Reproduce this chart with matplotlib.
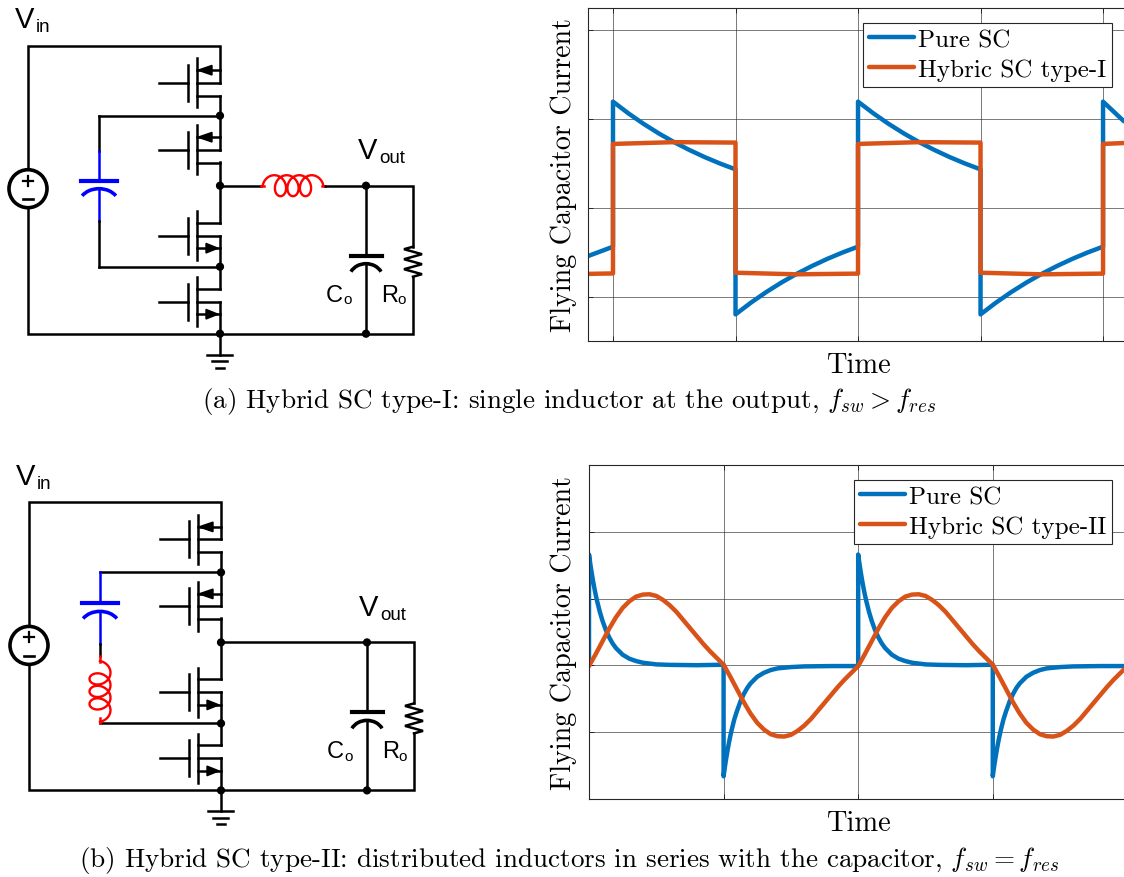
"""Hybrid switched-capacitor figure: two schematics and two current waveforms."""

import numpy as np
import matplotlib
matplotlib.use("Agg")
import matplotlib.pyplot as plt
from matplotlib.patches import Circle, Polygon, Arc

W, H = 1124, 878

plt.rcParams["axes.formatter.use_mathtext"] = True
plt.rcParams["mathtext.fontset"] = "cm"

SERIF = "cmr10"
SANS = "Liberation Sans"
BLUE = "#0072BD"
ORANGE = "#D95319"
DARK = "#262626"

# panel (a) waveforms, x in half periods
a_time_pure = [-0.204, 0, 0, 0.125, 0.25, 0.375, 0.5, 0.625, 0.75, 0.875, 1,
               1, 1.125, 1.25, 1.375, 1.5, 1.625, 1.75, 1.875, 2,
               2, 2.125, 2.25, 2.375, 2.5, 2.625, 2.75, 2.875, 3,
               3, 3.125, 3.25, 3.375, 3.5, 3.625, 3.75, 3.875, 4,
               4, 4.17]
a_pure = [-0.54, -0.435, 1.195, 1.064, 0.945, 0.837, 0.739, 0.651, 0.571, 0.499, 0.434,
          -1.195, -1.064, -0.945, -0.837, -0.739, -0.651, -0.571, -0.499, -0.434,
          1.195, 1.064, 0.945, 0.837, 0.739, 0.651, 0.571, 0.499, 0.434,
          -1.195, -1.064, -0.945, -0.837, -0.739, -0.651, -0.571, -0.499, -0.434,
          1.195, 0.975]
a_time_hybrid = [-0.204, 0, 0, 0.5, 1, 1, 1.5, 2, 2, 2.5, 3, 3, 3.5, 4, 4, 4.17]
a_hybrid = [-0.74, -0.735, 0.72, 0.74, 0.735, -0.727, -0.745, -0.737,
            0.72, 0.74, 0.735, -0.727, -0.745, -0.737, 0.72, 0.73]

# panel (b) waveforms
b_time_pure = [0, 0, 0.01, 0.02, 0.03, 0.04, 0.05, 0.06, 0.08, 0.1, 0.125, 0.15, 0.175, 0.2, 0.25, 0.3, 0.35, 0.4, 0.5, 0.6, 0.8, 1,
               1, 1.01, 1.02, 1.03, 1.04, 1.05, 1.06, 1.08, 1.1, 1.125, 1.15, 1.175, 1.2, 1.25, 1.3, 1.35, 1.4, 1.5, 1.6, 1.8, 2,
               2, 2.01, 2.02, 2.03, 2.04, 2.05, 2.06, 2.08, 2.1, 2.125, 2.15, 2.175, 2.2, 2.25, 2.3, 2.35, 2.4, 2.5, 2.6, 2.8, 3,
               3, 3.01, 3.02, 3.03, 3.04, 3.05, 3.06, 3.08, 3.1, 3.125, 3.15, 3.175, 3.2, 3.25, 3.3, 3.35, 3.4, 3.5, 3.6, 3.8, 3.975]
b_pure = [0, 1.66, 1.515, 1.385, 1.265, 1.155, 1.055, 0.965, 0.805, 0.67, 0.53, 0.42, 0.33, 0.26, 0.16, 0.10, 0.065, 0.04, 0.015, 0.008, 0.003, 0.01,
          -1.66, -1.515, -1.385, -1.265, -1.155, -1.055, -0.965, -0.805, -0.68, -0.54, -0.43, -0.34, -0.27, -0.17, -0.11, -0.07, -0.045, -0.025, -0.015, -0.01, -0.01,
          1.66, 1.515, 1.385, 1.265, 1.155, 1.055, 0.965, 0.805, 0.67, 0.53, 0.42, 0.33, 0.26, 0.16, 0.10, 0.065, 0.04, 0.015, 0.008, 0.003, 0.01,
          -1.66, -1.515, -1.385, -1.265, -1.155, -1.055, -0.965, -0.805, -0.68, -0.54, -0.43, -0.34, -0.27, -0.17, -0.11, -0.07, -0.045, -0.025, -0.015, -0.01, -0.01]
b_time_hybrid = [0, 0.05, 0.1, 0.15, 0.2, 0.25, 0.3, 0.35, 0.4, 0.45, 0.5, 0.55, 0.6, 0.65, 0.7, 0.75, 0.8, 0.85, 0.9, 0.95, 1,
                 1.05, 1.1, 1.15, 1.2, 1.25, 1.3, 1.35, 1.4, 1.45, 1.5, 1.55, 1.6, 1.65, 1.7, 1.75, 1.8, 1.85, 1.9, 1.95, 2,
                 2.05, 2.1, 2.15, 2.2, 2.25, 2.3, 2.35, 2.4, 2.45, 2.5, 2.55, 2.6, 2.65, 2.7, 2.75, 2.8, 2.85, 2.9, 2.95, 3,
                 3.05, 3.1, 3.15, 3.2, 3.25, 3.3, 3.35, 3.4, 3.45, 3.5, 3.55, 3.6, 3.65, 3.7, 3.75, 3.8, 3.85, 3.9, 3.95, 3.975]
b_hybrid = [-0.01, 0.17, 0.36, 0.55, 0.72, 0.86, 0.96, 1.03, 1.06, 1.065, 1.04, 0.98, 0.90, 0.80, 0.68, 0.56, 0.44, 0.32, 0.21, 0.11, 0.01,
            -0.17, -0.36, -0.55, -0.72, -0.86, -0.96, -1.03, -1.06, -1.065, -1.04, -0.98, -0.90, -0.80, -0.68, -0.56, -0.44, -0.32, -0.21, -0.11, -0.01,
            0.17, 0.36, 0.55, 0.72, 0.86, 0.96, 1.03, 1.06, 1.065, 1.04, 0.98, 0.90, 0.80, 0.68, 0.56, 0.44, 0.32, 0.21, 0.11, 0.01,
            -0.17, -0.36, -0.55, -0.72, -0.86, -0.96, -1.03, -1.06, -1.065, -1.04, -0.98, -0.90, -0.80, -0.68, -0.56, -0.44, -0.32, -0.21, -0.11, -0.06]


def px_rect(left, top, right, bottom):
    return [left / W, 1 - bottom / H, (right - left) / W, (bottom - top) / H]


def wire(ax, xs, ys, color="black", lw=1.8):
    ax.plot(xs, ys, color=color, lw=lw, solid_capstyle="projecting",
            solid_joinstyle="miter", zorder=2)


def dot(ax, x, y):
    ax.add_patch(Circle((x, y), 3.4, color="black", zorder=3))


def mosfet(ax, x, gate_y, p_type, dx):
    """Draw one FET. gate_y is the y of the gate line."""
    rail = x + dx
    wire(ax, [rail - 61, rail - 32], [gate_y, gate_y])
    wire(ax, [rail - 32, rail - 32], [gate_y - 18, gate_y + 18])
    wire(ax, [rail - 23, rail - 23], [gate_y - 24.5, gate_y + 24.5])
    if p_type:
        ys, arrow_y = (gate_y, gate_y + 13), gate_y - 12.5
        tip, base = rail - 22, rail - 8
    else:
        ys, arrow_y = (gate_y, gate_y - 13), gate_y + 12.5
        tip, base = rail - 2, rail - 14
    for y in ys:
        wire(ax, [rail - 23, rail], [y, y])
    wire(ax, [rail - 23, rail], [arrow_y, arrow_y])
    ax.add_patch(Polygon([[tip, arrow_y], [base, arrow_y - 4.8], [base, arrow_y + 4.8]],
                         closed=True, color="black", zorder=3))


def capacitor(ax, x, plate_y, color, half=18):
    wire(ax, [x - half, x + half], [plate_y, plate_y], color=color, lw=3.0)
    ax.add_patch(Arc((x, plate_y + 23), half * 2.2, 30, theta1=205, theta2=335,
                     color=color, lw=2.6, zorder=3))


def coil(ax, x0, y0, horizontal):
    t = np.linspace(0.5 * np.pi, 7.5 * np.pi, 400)
    along = 12.5 * t / (2 * np.pi) - 8.5 * np.sin(t)
    across = 10.5 * np.cos(t)
    if horizontal:
        ax.plot(x0 + along, y0 + across, color="red", lw=1.7, zorder=2)
    else:
        ax.plot(x0 - across, y0 + along, color="red", lw=1.7, zorder=2)


def resistor(ax, x, top, dx):
    ys = top + np.array([0, 2.5, 7.5, 12.5, 17.5, 22.5, 27.5, 30])
    xs = x + dx + np.array([0, -9, 9, -9, 9, -9, 9, 0])
    ax.plot(xs, ys, color="black", lw=1.8, solid_joinstyle="miter", zorder=2)


def sans(ax, x, y, s, size):
    ax.text(x, y, s, family=SANS, fontsize=size, ha="left", va="baseline")


def schematic(ax, dx, dy, series_lc):
    rail = 220 + dx
    top = 46 + dy
    bottom = 334 + dy
    out_y = 186 + dy
    fly_top = 116 + dy
    fly_bot = 267 + dy
    cap_x = 366 + dx
    res_x = 413 + dx
    left = 28 + dx
    fly_x = 99 + dx

    # outer loop and source
    wire(ax, [left, left, rail, rail], [169 + dy, top, top, 83 + dy])
    wire(ax, [left, left, res_x, res_x], [209 + dy, bottom, bottom, 277 + dy])
    wire(ax, [res_x, res_x, cap_x], [247 + dy, out_y, out_y])
    ax.add_patch(Circle((left, 189 + dy), 19, fill=False, ec="black", lw=2.6, zorder=3))
    wire(ax, [left - 5, left + 5], [181 + dy, 181 + dy], lw=1.6)
    wire(ax, [left, left], [176 + dy, 186 + dy], lw=1.6)
    wire(ax, [left - 5, left + 5], [199.5 + dy, 199.5 + dy], lw=1.9)

    # switches, top to bottom
    for gate_y, p_type in [(83, True), (150, True), (236, False), (302, False)]:
        mosfet(ax, 220, gate_y + dy, p_type, dx)
    wire(ax, [rail, rail], [96 + dy, 150 + dy])
    wire(ax, [rail, rail], [162 + dy, 223 + dy])
    wire(ax, [rail, rail], [236 + dy, 289 + dy])
    wire(ax, [rail, rail], [302 + dy, 355 + dy])

    # ground
    wire(ax, [rail - 13, rail + 12], [355 + dy, 355 + dy])
    wire(ax, [rail - 8, rail + 7], [361.5 + dy, 361.5 + dy])
    wire(ax, [rail - 4.5, rail + 4], [368 + dy, 368 + dy])

    # flying capacitor leg
    wire(ax, [rail, fly_x], [fly_top, fly_top])
    wire(ax, [fly_x, rail], [fly_bot, fly_bot])
    if series_lc:
        wire(ax, [fly_x, fly_x], [fly_top, 147 + dy], color="blue")
        capacitor(ax, fly_x, 147 + dy, "blue")
        wire(ax, [fly_x, fly_x], [155 + dy, 188 + dy], color="blue")
        wire(ax, [fly_x, fly_x], [188 + dy, 199.5 + dy])
        wire(ax, [fly_x, fly_x], [199.5 + dy, 206 + dy], color="red")
        coil(ax, fly_x, 210 + dy, False)
        wire(ax, [fly_x, fly_x], [262 + dy, 267 + dy], color="red")
        wire(ax, [rail, cap_x], [out_y, out_y])
    else:
        wire(ax, [fly_x, fly_x], [fly_top, 151 + dy])
        wire(ax, [fly_x, fly_x], [151 + dy, 181 + dy], color="blue")
        capacitor(ax, fly_x, 181 + dy, "blue")
        wire(ax, [fly_x, fly_x], [189 + dy, 221 + dy], color="blue")
        wire(ax, [fly_x, fly_x], [221 + dy, fly_bot])
        wire(ax, [rail, 261 + dx], [out_y, out_y])
        wire(ax, [261 + dx, 264 + dx], [out_y, out_y], color="red")
        wire(ax, [322 + dx, 325 + dx], [out_y, out_y], color="red")
        wire(ax, [325 + dx, cap_x], [out_y, out_y])
        coil(ax, 268 + dx, out_y, True)

    # output filter
    wire(ax, [cap_x, cap_x], [out_y, 256 + dy])
    wire(ax, [cap_x, cap_x], [264 + dy, bottom])
    capacitor(ax, cap_x, 256 + dy, "black", half=15.5)
    resistor(ax, 413, 247 + dy, dx)

    for x, y in [(rail, fly_top), (rail, out_y), (rail, fly_bot), (rail, bottom),
                 (cap_x, out_y), (cap_x, bottom)]:
        dot(ax, x, y)

    sans(ax, 15 + dx, 27.7 + dy, "V", 21)
    sans(ax, 36 + dx, 31.7 + dy, "in", 13.5)
    sans(ax, 358 + dx, 158.7 + dy, "V", 21)
    sans(ax, 379 + dx, 162.7 + dy, "out", 13.5)
    sans(ax, 326 + dx, 301 + dy, "C", 17)
    sans(ax, 343 + dx, 303.5 + dy, "o", 11)
    sans(ax, 381 + dx, 301 + dy, "R", 17)
    sans(ax, 397 + dx, 303.5 + dy, "o", 11)


def waveform(fig, rect, xlim, ylim, xticks, yticks, series, legend_xy, ylabel_x):
    ax = fig.add_axes(px_rect(*rect))
    ax.set_xlim(*xlim)
    ax.set_ylim(*ylim)
    ax.set_xticks(xticks)
    ax.set_yticks(yticks)
    ax.set_xticklabels([])
    ax.set_yticklabels([])
    ax.tick_params(direction="in", length=3.8, width=0.7, color=DARK, top=True, right=False)
    ax.grid(True, color=DARK, lw=0.7, alpha=0.62)
    ax.set_axisbelow(True)
    for side, spine in ax.spines.items():
        spine.set_linewidth(0.8)
        spine.set_color(DARK)
    ax.spines["right"].set_visible(False)
    for xs, ys, color, label in series:
        ax.plot(xs, ys, color=color, lw=3.2, label=label, solid_joinstyle="round",
                solid_capstyle="round")
    leg = ax.legend(loc="upper left", bbox_to_anchor=(legend_xy[0] / W, 1 - legend_xy[1] / H),
                    bbox_transform=fig.transFigure, prop={"family": SERIF, "size": 18.1},
                    handlelength=1.8, handletextpad=0.18, labelspacing=0.3, borderpad=0.22,
                    borderaxespad=0, fancybox=False, framealpha=1, edgecolor=DARK)
    leg.get_frame().set_linewidth(0.8)
    fig.text(858 / W, 1 - (rect[3] + 23.5) / H, "Time", family=SERIF, fontsize=20.5,
             ha="center", va="center")
    fig.text(ylabel_x / W, 1 - (rect[1] + rect[3]) / 2 / H, "Flying Capacitor Current",
             family=SERIF, fontsize=20.2, rotation=90, ha="center", va="center")
    return ax


fig = plt.figure(figsize=(W / 100, H / 100), dpi=100)
sch = fig.add_axes([0, 0, 1, 1])
sch.set_xlim(0, W)
sch.set_ylim(H, 0)
sch.axis("off")

schematic(sch, 0, 0.7, False)
schematic(sch, 1, 457.4, True)

waveform(fig, (588, 9, 1124, 342), (-0.204, 4.171), (-1.494, 2.247),
         [0, 1, 2, 3, 4], [-1, 0, 1, 2],
         [(a_time_pure, a_pure, BLUE, "Pure SC"),
          (a_time_hybrid, a_hybrid, ORANGE, "Hybric SC type-I")],
         (863, 24), 564)
waveform(fig, (589, 466, 1124, 800), (0, 3.975), (-2, 3),
         [1, 2, 3], [-1, 0, 1, 2],
         [(b_time_pure, b_pure, BLUE, "Pure SC"),
          (b_time_hybrid, b_hybrid, ORANGE, "Hybric SC type-II")],
         (854, 481), 564)

fig.text(569 / W, 1 - 401.5 / H,
         r"(a) Hybrid SC type-I: single inductor at the output, $f_{sw} > f_{res}$",
         family=SERIF, fontsize=19.5, ha="center", va="center")
fig.text(569 / W, 1 - 860.5 / H,
         r"(b) Hybrid SC type-II: distributed inductors in series with the capacitor, $f_{sw} = f_{res}$",
         family=SERIF, fontsize=19.5, ha="center", va="center")

fig.savefig("out.png", dpi=100)
